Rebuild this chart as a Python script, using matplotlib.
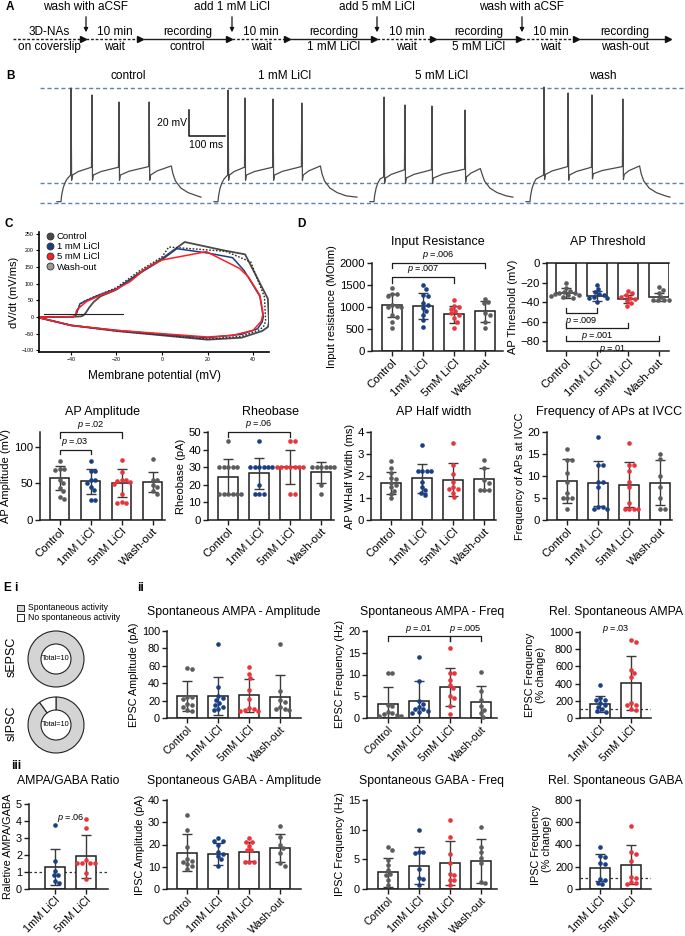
import numpy as np
import matplotlib
matplotlib.use('Agg')
import matplotlib.pyplot as plt
from matplotlib.lines import Line2D
from matplotlib.patches import Rectangle, Wedge

plt.rcParams['font.family'] = ['Liberation Sans', 'DejaVu Sans']
plt.rcParams['mathtext.fontset'] = 'custom'
plt.rcParams['mathtext.it'] = 'Liberation Sans:italic'
plt.rcParams['mathtext.rm'] = 'Liberation Sans'

# ======================= DATA =======================
# ---- Panel A: protocol timeline
A_TOP = ['3D-NAs', '10 min', 'recording', '10 min', 'recording', '10 min', 'recording', '10 min', 'recording']
A_BOT = ['on coverslip', 'wait', 'control', 'wait', '1 mM LiCl', 'wait', '5 mM LiCl', 'wait', 'wash-out']
A_DASHED = [True, True, False, True, False, True, False, True, False]
A_EVENTS = ['wash with aCSF', 'add 1 mM LiCl', 'add 5 mM LiCl', 'wash with aCSF']

# ---- Panel B: example traces (ms, mV)
B_TITLES = ['control', '1 mM LiCl', '5 mM LiCl', 'wash']
B_SPIKE_T = [[39, 97, 172, 256], [39, 86, 164, 244], [39, 97, 172, 264], [50, 117, 183, 269]]
B_SPIKE_PEAK = [[18.5, 13.1, 7.7, 7.7], [16.9, 10.8, 10.0, 6.9], [11.5, 5.4, 4.6, 1.5], [19.2, 14.6, 13.1, 10.0]]
B_PRE = [[-48.5, -42.5, -42.5, -42.0], [-48.5, -42.5, -42.5, -42.0],
         [-50.0, -44.5, -44.5, -44.0], [-48.5, -42.0, -42.5, -42.0]]
B_AHP = [[-48.5, -48.5, -48.5, -48.5], [-48.5, -48.5, -48.5, -48.5],
         [-50.8, -50.8, -50.8, -50.0], [-48.0, -48.5, -47.5, -48.0]]
B_STEP_END = [319, 297, 308, 317]
B_PLATEAU = [-41.5, -41.5, -43.5, -41.5]
B_END = [400, 397, 397, 400]
B_CHARGE_T = [0, 11, 13, 17, 22, 28]
B_CHARGE_V = [-69.0, -69.0, -64.0, -58.5, -54.5, -51.5]
B_DECAY_T = [3, 10, 25, 45, 70]
B_DECAY_V = [-47.5, -53.0, -58.5, -62.0, -64.5]
B_END_V = -65.5
B_LEVELS = [18.5, -54.6, -70.0]
B_SCALE_MV = 20
B_SCALE_MS = 100

# ---- Panel C: phase plots (V in mV, dV/dt in mV/ms)
C_NAMES = ['Control', '1 mM LiCl', '5 mM LiCl', 'Wash-out']
C_CTRL_V = [-54, -45, -38, -35.5, -34.5, -33.5, -32, -30, -27, -20, -10, 0, 10, 27, 36.5, 46.5, 47, 46.5, 44, 35, 20, 0, -20, -40, -54]
C_CTRL_D = [0, 0, 1, 2, 5, 12, 28, 45, 62, 82, 132, 175, 225, 200, 188, 55, -15, -30, -42, -62, -68, -55, -42, -25, -2]
C_1MM_V = [-54, -45, -39, -38, -37, -36, -33, -28, -20, -10, 0, 6.5, 20, 31, 36, 43, 44.5, 44, 42, 35, 20, 0, -20, -40, -54]
C_1MM_D = [0, 0, 1, 3, 20, 40, 50, 65, 85, 130, 172, 205, 192, 178, 140, 62, 0, -15, -35, -52, -62, -52, -40, -25, -2]
C_5MM_V = [-54, -45, -39, -38, -37.5, -36, -33, -27, -21, -14, -7, 0, 19.5, 34, 38, 43, 44.4, 43.6, 40, 31, 20, 0, -20, -40, -54]
C_5MM_D = [0, 0, 1, 4, 20, 30, 47, 65, 80, 106, 146, 171, 196, 146, 120, 65, 10, -13, -40, -55, -60, -50, -40, -25, -2]
C_WASH_V = [-54, -45, -39, -38, -37, -36, -34, -30, -20, -10, 0, 3, 28, 39, 45, 45.5, 45, 43, 35, 20, 0, -20, -40, -54]
C_WASH_D = [0, 0, 1, 4, 20, 38, 48, 60, 88, 138, 180, 210, 197, 165, 60, -10, -25, -38, -58, -66, -54, -42, -25, -2]
C_REF_V = [-52, -17]
C_REF_D = [10, 10]

# ---- Panel D
CATS4 = ['Control', '1mM LiCl', '5mM LiCl', 'Wash-out']
CATS2 = ['1mM LiCl', '5mM LiCl']

IR_PTS = [[1430, 1300, 1300, 1250, 1050, 1030, 1010, 1000, 820, 780, 670, 520],
          [1490, 1410, 1280, 1240, 1090, 1050, 970, 900, 820, 710, 555],
          [1160, 1030, 1010, 960, 900, 860, 820, 745, 670, 530],
          [1185, 1110, 1090, 860, 820, 650, 530]]
IR_MEAN = [1035, 1020, 830, 900]
IR_SD = [265, 290, 190, 230]

THR_PTS = [[-20.6, -25.8, -28.5, -29.9, -30.9, -31.0, -31.9, -32.6, -33.0, -33.3, -34.3, -35.4],
           [-22.0, -26.4, -30.0, -32.0, -32.6, -34.3, -35.4, -36.0, -40.0],
           [-28.5, -31.0, -32.6, -34.3, -35.4, -36.7, -38.8, -41.0, -43.6],
           [-25.0, -27.5, -31.0, -35.0, -38.0, -38.0, -38.0, -38.0]]
THR_MEAN = [-31, -34, -37, -35]
THR_SD = [5, 5, 4, 4]

AMP_PTS = [[81, 70, 69, 68, 55, 50, 43, 39, 32, 29],
           [81, 67, 67, 55, 55, 50, 45, 41, 27, 27],
           [82, 66, 54, 54, 53, 52, 49, 36, 25, 23, 23],
           [83, 55, 54, 48, 45, 39, 36]]
AMP_MEAN = [57, 53, 51, 52]
AMP_SD = [16, 17, 19, 14]

RHEO_PTS = [[45, 30, 30, 30, 30, 30, 15, 15, 15, 15, 15, 15],
            [45, 30, 30, 30, 30, 30, 30, 20, 15, 15, 15],
            [45, 45, 30, 30, 30, 30, 30, 30, 30, 15, 15],
            [30, 30, 30, 30, 30, 30, 20, 15]]
RHEO_MEAN = [24.5, 26.5, 30, 27]
RHEO_SD = [10, 9, 9.5, 6]

HW_PTS = [[2.7, 2.36, 2.13, 1.9, 1.85, 1.7, 1.6, 1.5, 1.34, 1.2, 1.0],
          [3.4, 2.24, 2.24, 2.24, 2.24, 1.75, 1.5, 1.37, 1.25, 1.14],
          [3.5, 2.5, 2.1, 1.75, 1.5, 1.4, 1.4, 1.25, 1.06],
          [2.74, 2.36, 1.82, 1.7, 1.37, 1.37, 1.37]]
HW_MEAN = [1.7, 1.9, 1.83, 1.87]
HW_SD = [0.5, 0.65, 0.75, 0.5]

FQ_PTS = [[16.2, 13.7, 13.7, 10.6, 8.7, 6.2, 4.9, 4.9, 4.9, 2.4],
          [18.8, 12.5, 12.5, 8.7, 8.7, 7.4, 3.0, 3.0, 2.6, 2.6],
          [17.5, 12.5, 12.5, 11.2, 8.7, 7.5, 3.8, 2.5, 2.5, 2.5, 2.5],
          [15.0, 13.8, 10.0, 7.4, 5.0, 2.5, 2.5]]
FQ_MEAN = [8.8, 8.3, 8.0, 8.5]
FQ_SD = [5.0, 5.1, 5.1, 5.1]

# ---- Panel E
E_PIE_LABELS = ['Spontaneous activity', 'No spontaneous activity']
E_SEPSC = [10, 0]
E_SIPSC = [9, 1]

RATIO_PTS = [[3.75, 1.65, 1.05, 0.85, 0.8, 0.45, 0.35],
             [4.1, 3.6, 1.7, 1.55, 1.55, 1.55, 1.55, 0.95, 0.6]]
RATIO_MEAN = [1.28, 1.93]
RATIO_SD = [1.05, 1.27]

EAMP_PTS = [[58, 56, 24, 24, 22, 16, 15, 13, 9.5, 7.6],
            [85, 36, 25.5, 23, 21, 17, 15, 13, 10, 9.5],
            [59, 50.5, 45.6, 32, 21.7, 11, 10.5, 9.5, 8.5, 7.6],
            [85.5, 31.5, 21, 18, 13, 10, 9.5, 10]]
EAMP_MEAN = [25, 25, 26, 24]
EAMP_SD = [17.5, 22, 19, 26]

EFQ_PTS = [[10.4, 10.4, 2.9, 2.7, 1.4, 1.1, 0.9, 0.8, 0.5, 0.5],
           [14.0, 8.6, 3.8, 3.3, 2.5, 2.0, 2.0, 1.7, 1.3, 1.1],
           [16.0, 10.3, 10.3, 8.7, 7.6, 6.8, 5.1, 4.6, 2.7, 1.0],
           [10.6, 6.3, 4.2, 2.7, 1.9, 1.1, 0.2]]
EFQ_MEAN = [3.2, 4.0, 7.1, 3.7]
EFQ_SD = [3.9, 4.4, 4.4, 3.7]

ERL_PTS = [[385, 230, 210, 204, 173, 154, 127, 104, 77, 65],
           [904, 885, 558, 519, 481, 173, 154, 146, 104, 96]]
ERL_MEAN = [165, 405]
ERL_SD = [92, 312]

IAMP_PTS = [[33.3, 26.5, 19, 13.3, 12.7, 12.3, 11.2, 10.3, 8.8],
            [22.8, 21.7, 21.7, 19.8, 16.8, 15.7, 14.8, 13.3, 10.3],
            [22.8, 21.3, 21.3, 19.3, 17.5, 17.5, 12.3, 12.3, 12.3],
            [28.3, 23.5, 19.8, 18.3, 16.3, 11.5, 10.3]]
IAMP_MEAN = [16.3, 15.8, 16.8, 18.5]
IAMP_SD = [8.2, 4.8, 4.3, 6.3]

IFQ_PTS = [[7.0, 6.6, 4.9, 4.0, 3.2, 2.5, 2.4, 1.5, 0.7],
           [9.9, 6.2, 6.2, 6.0, 3.3, 1.8, 1.7, 0.7],
           [11.6, 8.7, 5.9, 4.3, 2.6, 2.4, 1.5, 1.5, 0.7],
           [10.5, 7.1, 6.3, 5.3, 4.3, 1.2, 1.0]]
IFQ_MEAN = [2.8, 3.9, 4.4, 4.7]
IFQ_SD = [2.5, 3.1, 3.7, 3.7]

IRL_PTS = [[380, 296, 290, 230, 225, 87, 81, 51, 45],
           [566, 329, 314, 254, 111, 96, 66, 51, 42]]
IRL_MEAN = [190, 220]
IRL_SD = [122, 172]

# ======================= STYLE / LAYOUT =======================
GRAY = '#5c5c5c'
BLUE = '#1b3f86'
RED = '#e8353b'
COL4 = [GRAY, BLUE, RED, GRAY]
COL2 = [BLUE, RED]
INK = '#1e1e1e'
SP = 31.0  # px per category

W, H = 685, 936
fig = plt.figure(figsize=(W / 100, H / 100), dpi=100)


def ax_px(l, t, r, b):
    return fig.add_axes([l / W, 1 - b / H, (r - l) / W, (b - t) / H])


ov = fig.add_axes([0, 0, 1, 1], zorder=20)
ov.set_xlim(0, W)
ov.set_ylim(H, 0)
ov.axis('off')
ov.patch.set_alpha(0)


def T(x, y, s, **kw):
    kw.setdefault('ha', 'center')
    kw.setdefault('va', 'center')
    kw.setdefault('fontsize', 8.5)
    return ov.text(x, y, s, **kw)


# ======================= PANEL A =======================
T(6, 7, 'A', fontsize=8.5, fontweight='bold', ha='left')
bounds = [13, 86, 143, 232, 290, 377, 436, 522, 579, 671]
yl = 39
for i in range(len(A_TOP)):
    x0, x1 = bounds[i], bounds[i + 1]
    ls = (0, (2.0, 1.3)) if A_DASHED[i] else '-'
    ov.plot([x0, x1 - 3], [yl, yl], color=INK, lw=1.0, ls=ls, solid_capstyle='butt')
    ov.plot([x1 - 2.5], [yl], marker='>', ms=5, color='#111', mec='#111')
    xc = (x0 + x1) / 2
    T(xc, yl - 7, A_TOP[i])
    T(xc, yl + 8, A_BOT[i])
for k, ev in enumerate(A_EVENTS):
    xb = bounds[2 * k + 1]
    T(xb, 7, ev)
    ov.annotate('', xy=(xb, yl - 4), xytext=(xb, 14),
                arrowprops=dict(arrowstyle='-|>', color='#111', lw=0.9, mutation_scale=6))

# ======================= PANEL B =======================
T(6, 76, 'B', fontsize=8.5, fontweight='bold', ha='left')
axB = ax_px(40, 80, 685, 210)
ms_per_px = 100 / 36.0
mv_per_px = 20 / 26.0
axB.set_xlim(0, 645 * ms_per_px)
axB.set_ylim(-70 - 7 * mv_per_px, -70 + 123 * mv_per_px)
axB.axis('off')
for lev in B_LEVELS:
    axB.axhline(lev, color='#5b86aa', lw=1.0, ls=(0, (3, 2)))
starts_px = [57, 214, 370, 526]
title_px = [128, 285, 442, 603]
for c in range(4):
    t0 = (starts_px[c] - 40) * ms_per_px
    tt = list(B_CHARGE_T)
    vv = list(B_CHARGE_V)
    st = B_SPIKE_T[c]
    for k in range(len(st)):
        ts = st[k]
        tt += [ts - 1.2, ts, ts + 1.6, ts + 4.0]
        vv += [B_PRE[c][k], B_SPIKE_PEAK[c][k], B_AHP[c][k] - 4, B_AHP[c][k]]
        if k + 1 < len(st):
            tn, vn = st[k + 1], B_PRE[c][k + 1]
        else:
            tn, vn = B_STEP_END[c], B_PLATEAU[c]
        tt += [ts + 4 + 0.3 * (tn - ts - 4), tn - 1.5]
        vv += [B_AHP[c][k] + 0.45 * (vn - B_AHP[c][k]), vn]
    tt += [B_STEP_END[c] + d for d in B_DECAY_T] + [B_END[c]]
    vv += list(B_DECAY_V) + [B_END_V]
    axB.plot(np.array(tt) + t0, vv, color='#4a4a4a', lw=0.9)
    T(title_px[c], 76, B_TITLES[c])
# scale bar
sx = (189 - 40) * ms_per_px
sy = -18.5
axB.plot([sx, sx, sx + B_SCALE_MS], [sy + B_SCALE_MV, sy, sy], color='#111', lw=1.1)
T(187, 123, '%d mV' % B_SCALE_MV, ha='right', fontsize=7.5)
T(189, 145, '%d ms' % B_SCALE_MS, ha='left', fontsize=7.5)

# ======================= PANEL C =======================
T(5, 224, 'C', fontsize=8.5, fontweight='bold', ha='left')
axC = ax_px(39, 232, 269, 352)
axC.plot(C_CTRL_V, C_CTRL_D, color='#4a4a4a', lw=1.3)
axC.plot(C_WASH_V, C_WASH_D, color='#2a2a2a', lw=1.0, ls=(0, (1.2, 1.2)))
axC.plot(C_1MM_V, C_1MM_D, color=BLUE, lw=1.1)
axC.plot(C_5MM_V, C_5MM_D, color='#ff1f1f', lw=1.1)
axC.plot(C_REF_V, C_REF_D, color='#222', lw=0.8)
axC.set_xlim(-54, 47)
axC.set_ylim(-105, 255)
axC.set_xticks([-40, -20, 0, 20, 40])
axC.set_yticks([-100, -50, 0, 50, 100, 150, 200, 250])
axC.tick_params(labelsize=3.8, length=2.2, width=0.8, pad=1.5)
for s in ['top', 'right']:
    axC.spines[s].set_visible(False)
for s in ['left', 'bottom']:
    axC.spines[s].set_linewidth(1.2)
axC.set_ylabel('dV/dt (mV/ms)', fontsize=8, labelpad=2)
axC.set_xlabel('Membrane potential (mV)', fontsize=8.5, labelpad=6)
leg_cols = ['#4a4a4a', BLUE, '#ff1f1f', '#9b9b9b']
handles = [Line2D([], [], ls='none', marker='o', ms=5, mfc=leg_cols[i], mec='#333', mew=0.6, label=C_NAMES[i])
           for i in range(4)]
axC.legend(handles=handles, loc='upper left', bbox_to_anchor=(0.02, 1.03), frameon=False, fontsize=6.8,
           handlelength=0.6, handletextpad=0.4, labelspacing=0.12, borderaxespad=0)

# ======================= helpers for bar panels =======================


def swarm(vals, ppu_y, d):
    vals = np.asarray(vals, float)
    order = np.argsort(-vals)
    xs = np.zeros(len(vals))
    placed = []
    steps = np.arange(0.25, 8, 0.25)
    cands = [0.0]
    for s_ in steps:
        cands += [s_ * d, -s_ * d]
    for i in order:
        y = vals[i] * ppu_y
        for c in cands:
            ok = True
            for px, py in placed:
                if (c - px) ** 2 + (y - py) ** 2 < (d * 0.98) ** 2:
                    ok = False
                    break
            if ok:
                xs[i] = c
                placed.append((c, y))
                break
    return xs


def bar_panel(L, Tp, B, padl, padr, cats, pts, means, sds, cols, ylim, yticks, ylabel,
              title=None, title_y=None, ylab_fs=8, neg=False, cat_fs=7.8, tick_fs=8.2, title_fs=9):
    n = len(cats)
    xmin, xmax = -padl, n - 1 + padr
    R = L + (xmax - xmin) * SP
    ax = ax_px(L, Tp, R, B)
    x = np.arange(n)
    ax.bar(x, means, width=0.64, color='white', edgecolor=INK, linewidth=1.1, zorder=1)
    ax.errorbar(x, means, yerr=sds, fmt='none', ecolor='#3a3a3a', elinewidth=1.0,
                capsize=3.3, capthick=1.0, zorder=3)
    ppu_y = (B - Tp) / (ylim[1] - ylim[0])
    for i in range(n):
        off = swarm(pts[i], ppu_y, 4.4) / SP
        ax.scatter(i + off, pts[i], s=11, color=cols[i], linewidths=0, zorder=4, clip_on=False)
    ax.set_xlim(xmin, xmax)
    ax.set_ylim(*ylim)
    ax.set_yticks(yticks)
    ax.set_xticks(x)
    ax.set_xticklabels(cats, rotation=45, ha='right', va='top', rotation_mode='anchor', fontsize=cat_fs)
    ax.spines['right'].set_visible(False)
    if not neg:
        ax.spines['top'].set_visible(False)
    for s in ['left', 'bottom', 'top']:
        ax.spines[s].set_linewidth(1.1)
        ax.spines[s].set_color(INK)
    ax.tick_params(length=3.5, width=1.0, labelsize=tick_fs, pad=1.5, color=INK)
    ax.tick_params(axis='x', pad=1.0)
    ax.set_ylabel(ylabel, fontsize=ylab_fs, labelpad=2)
    ax.patch.set_alpha(0)
    if title:
        T((L + R) / 2, title_y, title, fontsize=title_fs)
    return ax


def bracket(ax, i, j, y, h, label, below=False, fs=6.6):
    ax.plot([i, i, j, j], [y - h, y, y, y - h], color=INK, lw=0.9, clip_on=False, zorder=5)
    ax.annotate(label, xy=((i + j) / 2, y), xytext=(0, -1.5 if below else 1.2), textcoords='offset points',
                ha='center', va='top' if below else 'bottom', fontsize=fs, annotation_clip=False)


PL = r'$p$ ='

# ======================= PANEL D =======================
T(297, 224, 'D', fontsize=8.5, fontweight='bold', ha='left')
axIR = bar_panel(372, 263, 351, 0.65, 0.58, CATS4, IR_PTS, IR_MEAN, IR_SD, COL4, (0, 2000),
                 [0, 500, 1000, 1500, 2000], 'Input resistance (MOhm)', 'Input Resistance', 242)
bracket(axIR, 0, 2, 1680, 130, PL + '.007')
bracket(axIR, 0, 3, 2000, 110, PL + '.006')

axTH = bar_panel(547, 263, 351, 0.61, 0.33, CATS4, THR_PTS, THR_MEAN, THR_SD, COL4, (-90, 0),
                 [0, -20, -40, -60, -80], 'AP Threshold (mV)', 'AP Threshold', 242, neg=True)
bracket(axTH, 0, 1, -51, -5, PL + '.009', below=True)
bracket(axTH, 0, 2, -66, -5, PL + '.001', below=True)
bracket(axTH, 0, 3, -80, -5, PL + '.01', below=True)

axAM = bar_panel(40, 432, 520, 0.63, 0.4, CATS4, AMP_PTS, AMP_MEAN, AMP_SD, COL4, (0, 120),
                 [0, 50, 100], 'AP Amplitude (mV)', 'AP Amplitude', 412)
bracket(axAM, 0, 1, 96, 6, PL + '.03')
bracket(axAM, 0, 2, 119.5, 7, PL + '.02')

axRH = bar_panel(208, 432, 520, 0.65, 0.4, CATS4, RHEO_PTS, RHEO_MEAN, RHEO_SD, COL4, (0, 50),
                 [0, 10, 20, 30, 40, 50], 'Rheobase (pA)', 'Rheobase', 412)
bracket(axRH, 0, 2, 50, 3, PL + '.06')

axHW = bar_panel(371, 432, 520, 0.65, 0.38, CATS4, HW_PTS, HW_MEAN, HW_SD, COL4, (0, 4),
                 [0, 1, 2, 3, 4], 'AP WHalf Width (ms)', 'AP Half width', 412)

axFQ = bar_panel(547, 432, 520, 0.65, 0.38, CATS4, FQ_PTS, FQ_MEAN, FQ_SD, COL4, (0, 20),
                 [0, 5, 10, 15, 20], 'Frequency of APs at IVCC', 'Frequency of APs at IVCC', 412,
                 ylab_fs=7.8)

# ======================= PANEL E =======================
T(3, 588, 'E', fontsize=8.5, fontweight='bold', ha='left')
T(14, 588, 'i', fontsize=8.5, fontweight='bold', ha='left')
T(137, 588, 'ii', fontsize=8.5, fontweight='bold', ha='left')
T(11, 766, 'iii', fontsize=8.5, fontweight='bold', ha='left')

PIE_COLS = ['#d4d4d4', 'white']
for k, lab in enumerate(E_PIE_LABELS):
    yy = 608 + 9.5 * k
    ov.add_patch(Rectangle((17, yy - 3.3), 6.6, 6.6, facecolor=PIE_COLS[k], edgecolor='#222', lw=0.7))
    T(28, yy, lab, ha='left', fontsize=6.2)

R_OUT, R_IN = 28.0, 15.0
for counts, cy, name in [(E_SEPSC, 659, 'sEPSC'), (E_SIPSC, 725, 'sIPSC')]:
    axp = ax_px(56 - 32, cy - 32, 56 + 32, cy + 32)
    axp.set_xlim(-32, 32)
    axp.set_ylim(-32, 32)
    axp.axis('off')
    total = float(sum(counts))
    ang = 90.0
    for k, v in enumerate(counts):
        if v <= 0:
            continue
        span = 360.0 * v / total
        axp.add_patch(Wedge((0, 0), R_OUT, ang - span, ang, width=R_OUT - R_IN,
                            facecolor=PIE_COLS[k], edgecolor='#222', lw=0.8))
        ang -= span
    axp.text(0, 0, 'Total=%d' % int(total), ha='center', va='center', fontsize=5.3)
    T(12, cy - 2, name, rotation=90, fontsize=9)

EKW = dict(cat_fs=6.6, tick_fs=7.8, title_fs=8.8, ylab_fs=7.8)
axRA = bar_panel(29, 804, 889, 0.84, 0.7, CATS2, RATIO_PTS, RATIO_MEAN, RATIO_SD, COL2, (0, 5),
                 [0, 1, 2, 3, 4, 5], 'Raletive AMPA/GABA', 'AMPA/GABA Ratio', 781, **EKW)
axRA.axhline(1, color='#333', lw=0.9, ls=(0, (2, 2)), zorder=0.5)
axRA.text(0.5, 4.15, PL + '.06', ha='center', va='center', fontsize=6.6)

axEA = bar_panel(167, 631, 718, 0.65, 0.68, CATS4, EAMP_PTS, EAMP_MEAN, EAMP_SD, COL4, (0, 100),
                 [0, 20, 40, 60, 80, 100], 'EPSC Amplitude (pA)', 'Spontaneous AMPA - Amplitude', 612, **EKW)
axEF = bar_panel(367, 631, 718, 0.68, 0.5, CATS4, EFQ_PTS, EFQ_MEAN, EFQ_SD, COL4, (0, 20),
                 [0, 5, 10, 15, 20], 'EPSC Frequency (Hz)', 'Spontaneous AMPA - Freq', 612, **EKW)
bracket(axEF, 0, 2, 18.8, 1.2, PL + '.01')
bracket(axEF, 2, 3, 18.8, 1.2, PL + '.005')
axER = bar_panel(580, 632, 718, 0.65, 0.65, CATS2, ERL_PTS, ERL_MEAN, ERL_SD, COL2, (0, 1000),
                 [0, 200, 400, 600, 800, 1000], 'EPSC Frequency\n(% change)', 'Rel. Spontaneous AMPA', 612, **EKW)
axER.axhline(100, color='#333', lw=0.9, ls=(0, (2, 2)), zorder=0.5)
axER.text(0.5, 1035, PL + '.03', ha='center', va='center', fontsize=6.6)

axIA = bar_panel(167, 800, 889, 0.65, 0.68, CATS4, IAMP_PTS, IAMP_MEAN, IAMP_SD, COL4, (0, 40),
                 [0, 10, 20, 30, 40], 'IPSC Amplitude (pA)', 'Spontaneous GABA - Amplitude', 781, **EKW)
axIF = bar_panel(367, 800, 889, 0.68, 0.5, CATS4, IFQ_PTS, IFQ_MEAN, IFQ_SD, COL4, (0, 15),
                 [0, 5, 10, 15], 'IPSC Frequency (Hz)', 'Spontaneous GABA - Freq', 781, **EKW)
axIR2 = bar_panel(580, 800, 889, 0.65, 0.65, CATS2, IRL_PTS, IRL_MEAN, IRL_SD, COL2, (0, 800),
                  [0, 200, 400, 600, 800], 'IPSC Frequency\n(% change)', 'Rel. Spontaneous GABA', 781, **EKW)
axIR2.axhline(100, color='#333', lw=0.9, ls=(0, (2, 2)), zorder=0.5)

fig.savefig('out.png', dpi=100)
